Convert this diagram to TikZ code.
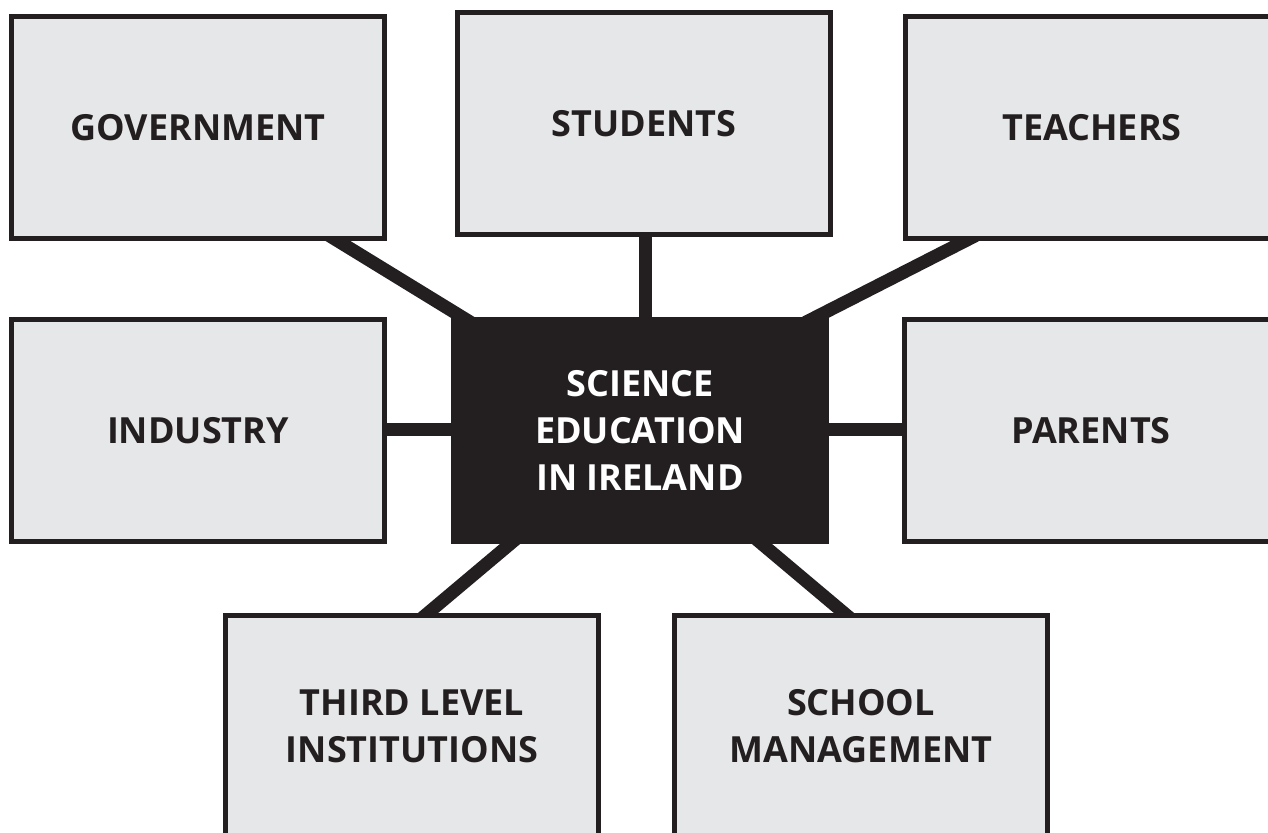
\documentclass[tikz,border=0pt]{standalone}
\usepackage{fontspec}
\setmainfont{Open Sans}[BoldFont={* Bold}]
\usetikzlibrary{backgrounds}
\definecolor{ink}{HTML}{231F20}
\definecolor{boxgray}{HTML}{E6E7E8}
\begin{document}
\begin{tikzpicture}[x=1pt,y=-1pt,
  box/.style={draw=ink,line width=5pt,fill=boxgray,minimum width=373pt,minimum height=222pt,
    inner sep=0pt,align=center,text=ink,font=\fontsize{36}{47}\selectfont\bfseries},
  hub/.style={box,fill=ink,text=white},
  link/.style={draw=ink,line width=13pt,shorten <=-12pt,shorten >=-12pt}]
\useasboundingbox (0,0) rectangle (1268,832);
\clip (0,0) rectangle (1268,832);
\node[box] (gov) at (198,127.5) {GOVERNMENT};
\node[box] (stu) at (644,123.5) {STUDENTS};
\node[box] (tea) at (1092,127.5) {TEACHERS};
\node[box] (ind) at (198,430.5) {INDUSTRY};
\node[hub] (cen) at (640,430.5) {SCIENCE\\EDUCATION\\IN IRELAND};
\node[box] (par) at (1091,430.5) {PARENTS};
\node[box] (thi) at (412,726.5) {THIRD LEVEL\\INSTITUTIONS};
\node[box] (sch) at (861,726.5) {SCHOOL\\MANAGEMENT};
\begin{scope}[on background layer]
\draw[link] ([xshift=140pt]gov.south) -- ([xshift=-178pt]cen.north);
\draw[link] ([xshift=1pt]stu.south) -- ([xshift=5pt]cen.north);
\draw[link] ([xshift=-127pt]tea.south) -- ([xshift=176pt]cen.north);
\draw[link] ([yshift=1.5pt]ind.east) -- ([yshift=1.5pt]cen.west);
\draw[link] ([yshift=1.5pt]cen.east) -- ([yshift=1.5pt]par.west);
\draw[link] ([xshift=-130pt]cen.south) -- ([xshift=16pt]thi.north);
\draw[link] ([xshift=122pt]cen.south) -- ([xshift=-17pt]sch.north);
\end{scope}
\end{tikzpicture}
\end{document}
